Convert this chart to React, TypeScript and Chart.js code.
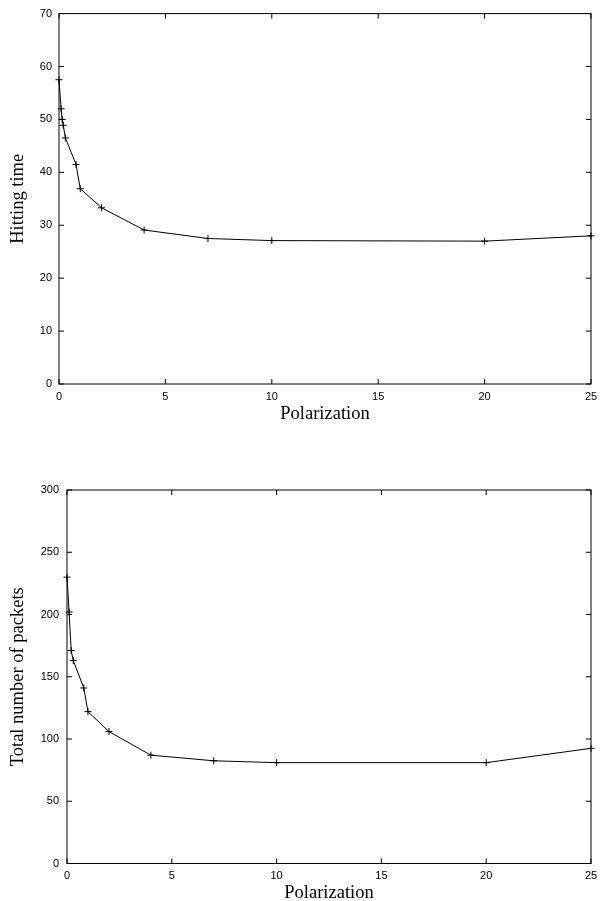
import React, { useEffect, useRef } from "react";
import { Chart, registerables } from "chart.js";

Chart.register(...registerables);

// ---- Data ----
const hitX = [0, 0.1, 0.15, 0.2, 0.3, 0.8, 1, 2, 4, 7, 10, 20, 25];
const hitY = [57.5, 52, 50, 48.9, 46.5, 41.5, 36.9, 33.3, 29.1, 27.5, 27.1, 27.0, 28.0];

const pktX = [0, 0.1, 0.2, 0.3, 0.8, 1, 2, 4, 7, 10, 20, 25];
const pktY = [230, 202, 171, 163, 141, 122, 106, 87, 82.5, 81, 81, 92.5];

const xTitle = "Polarization";
const topYTitle = "Hitting time";
const bottomYTitle = "Total number of packets";

const frame = {
  id: "frame",
  afterDraw(chart: any) {
    const { ctx, chartArea: a, scales } = chart;
    const L = 5;
    ctx.save();
    ctx.strokeStyle = "#000";
    ctx.lineWidth = 1;
    ctx.strokeRect(a.left, a.top, a.right - a.left, a.bottom - a.top);
    ctx.beginPath();
    scales.x.ticks.forEach((t: any) => {
      const px = scales.x.getPixelForValue(t.value);
      ctx.moveTo(px, a.bottom);
      ctx.lineTo(px, a.bottom - L);
      ctx.moveTo(px, a.top);
      ctx.lineTo(px, a.top + L);
    });
    scales.y.ticks.forEach((t: any) => {
      const py = scales.y.getPixelForValue(t.value);
      ctx.moveTo(a.left, py);
      ctx.lineTo(a.left + L, py);
      ctx.moveTo(a.right, py);
      ctx.lineTo(a.right - L, py);
    });
    ctx.stroke();
    ctx.restore();
  },
};

type Cfg = {
  xs: number[];
  ys: number[];
  yMax: number;
  yStep: number;
  yTitle: string;
  yWidth: number;
  xHeight: number;
  padTop: number;
  yTickPad: number;
  xTitlePad: number;
};

function makeConfig(c: Cfg): any {
  const tickFont = { family: "'Liberation Sans', Arial, sans-serif", size: 11 };
  const titleFont = { family: "'Liberation Serif', 'Times New Roman', serif", size: 18.5 };
  return {
    type: "line",
    data: {
      datasets: [
        {
          data: c.xs.map((x, i) => ({ x, y: c.ys[i] })),
          borderColor: "#000",
          borderWidth: 1,
          pointStyle: "cross",
          pointRadius: 3.5,
          pointBorderColor: "#000",
          pointBorderWidth: 1,
          pointBackgroundColor: "#000",
          tension: 0,
          fill: false,
          clip: false,
        },
      ],
    },
    options: {
      responsive: false,
      animation: false,
      layout: { padding: { top: c.padTop, right: 17, left: 0, bottom: 0 } },
      plugins: { legend: { display: false }, tooltip: { enabled: false } },
      scales: {
        x: {
          type: "linear",
          min: 0,
          max: 25,
          grid: { display: false, drawTicks: false },
          border: { display: false },
          ticks: { stepSize: 5, color: "#000", font: tickFont, padding: 6, maxRotation: 0 },
          title: { display: true, text: xTitle, color: "#000", font: titleFont, padding: { top: 0, bottom: c.xTitlePad } },
          afterFit: (s: any) => {
            s.height = c.xHeight;
          },
        },
        y: {
          type: "linear",
          min: 0,
          max: c.yMax,
          grid: { display: false, drawTicks: false },
          border: { display: false },
          ticks: { stepSize: c.yStep, color: "#000", font: tickFont, padding: c.yTickPad },
          title: { display: true, text: c.yTitle, color: "#000", font: titleFont, padding: { top: 7, bottom: 0 } },
          afterFit: (s: any) => {
            s.width = c.yWidth;
          },
        },
      },
    },
    plugins: [frame],
  };
}

function ChartCanvas({ cfg, width, height, top }: { cfg: Cfg; width: number; height: number; top: number }) {
  const ref = useRef<HTMLCanvasElement | null>(null);
  useEffect(() => {
    if (!ref.current) return;
    const chart = new Chart(ref.current, makeConfig(cfg));
    return () => chart.destroy();
  }, []);
  return (
    <canvas
      ref={ref}
      width={width}
      height={height}
      style={{ position: "absolute", left: 0, top, width, height }}
    />
  );
}

export default function App() {
  return (
    <div style={{ position: "absolute", left: 0, top: 0, width: 608, height: 901, background: "#fff", overflow: "hidden" }}>
      <ChartCanvas
        top={0}
        width={608}
        height={425}
        cfg={{ xs: hitX, ys: hitY, yMax: 70, yStep: 10, yTitle: topYTitle, yWidth: 59, xHeight: 41, padTop: 11, yTickPad: 7, xTitlePad: 0 }}
      />
      <ChartCanvas
        top={450}
        width={608}
        height={456}
        cfg={{ xs: pktX, ys: pktY, yMax: 300, yStep: 50, yTitle: bottomYTitle, yWidth: 67, xHeight: 42.5, padTop: 40, yTickPad: 8, xTitlePad: 2 }}
      />
    </div>
  );
}
